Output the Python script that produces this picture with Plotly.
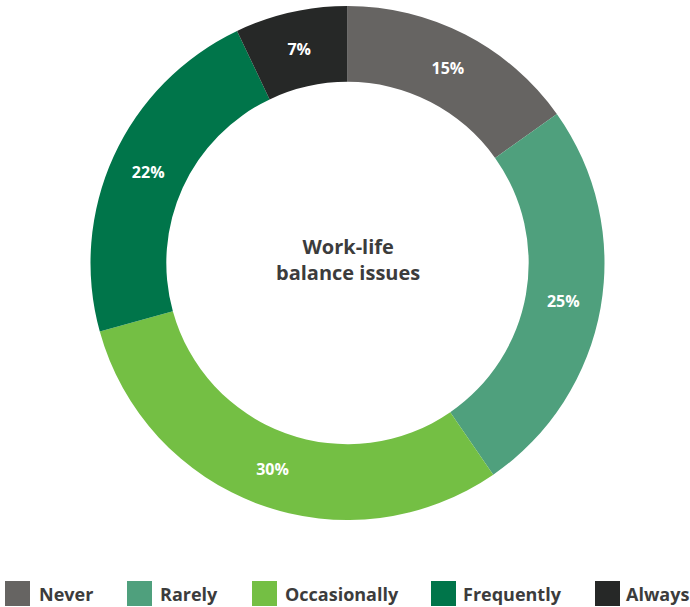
import plotly.graph_objects as go

# Survey answers for how often work-life balance issues come up
categories = ["Never", "Rarely", "Occasionally", "Frequently", "Always"]
shares = [15, 25, 30, 22, 7]
colors = ["#666462", "#4fa07d", "#74bf44", "#00754a", "#262827"]

W, H = 690, 607
cx, cy, r = 347.5, 263, 257
TEXT = "#3c3c3c"

fig = go.Figure(
    go.Pie(
        labels=categories,
        values=shares,
        text=[f"{v}%" for v in shares],
        texttemplate="%{text}",
        textinfo="text",
        textposition="inside",
        insidetextorientation="horizontal",
        insidetextfont=dict(family="Open Sans", size=16, color="white", weight="bold"),
        hole=0.705,
        sort=False,
        direction="clockwise",
        rotation=0,
        marker=dict(colors=colors, line=dict(width=0)),
        domain=dict(x=[(cx - r) / W, (cx + r) / W], y=[1 - (cy + r) / H, 1 - (cy - r) / H]),
        hoverinfo="label+text",
        showlegend=False,
    )
)

fig.add_annotation(
    x=cx / W, y=1 - 259 / H, xref="paper", yref="paper",
    text="Work-life<br>balance issues", showarrow=False,
    font=dict(family="Open Sans", size=20, color=TEXT, weight="bold"),
    align="center",
)

# Legend row: coloured squares with bold labels
swatch_left = [5, 127, 252, 431, 595]
label_left = [37, 158, 283, 461, 624]
sw, ly = 25, 593.5
for name, col, sx, tx in zip(categories, colors, swatch_left, label_left):
    fig.add_shape(
        type="rect", xref="paper", yref="paper",
        x0=sx / W, x1=(sx + sw) / W,
        y0=1 - (ly + sw / 2) / H, y1=1 - (ly - sw / 2) / H,
        fillcolor=col, line=dict(width=0),
    )
    fig.add_annotation(
        x=tx / W, y=1 - ly / H, xref="paper", yref="paper",
        xanchor="left", yanchor="middle", showarrow=False,
        text=name,
        font=dict(family="Open Sans", size=18, color=TEXT, weight="bold"),
    )

fig.update_layout(
    width=W, height=H,
    margin=dict(l=0, r=0, t=0, b=0),
    paper_bgcolor="white", plot_bgcolor="white",
)

fig.write_html("out.html")
